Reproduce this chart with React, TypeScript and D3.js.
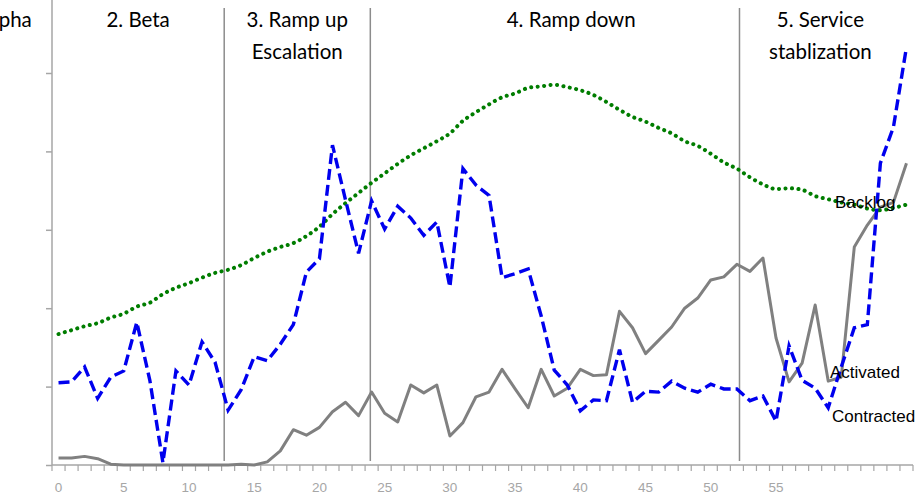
import * as d3 from "d3";
import React, { useRef, useEffect } from "react";

// day index of each point on the category axis
const days = d3.range(66);

const contracted = [105, 106, 125, 85, 112, 120, 182, 108, 3, 120, 102, 157, 131, 70, 96, 138, 133, 154, 179, 246,
  263, 408, 338, 270, 337, 301, 330, 315, 293, 310, 227, 378, 357, 344, 239, 244, 250, 190, 121, 102,
  69, 83, 82, 147, 80, 94, 93, 107, 98, 93, 103, 97, 97, 82, 88, 56, 152, 108, 98, 73,
  125, 175, 179, 385, 431, 533];

const activated = [9, 9, 11, 8, 1, 0, 0, 0, 0, 0, 0, 0, 0, 0, 1, 0, 4, 18, 45, 38,
  48, 68, 80, 63, 93, 66, 55, 102, 92, 102, 37, 54, 87, 93, 122, 97, 73, 122, 88, 98,
  122, 114, 115, 196, 175, 142, 159, 176, 200, 213, 236, 240, 256, 247, 264, 162, 106, 130, 204, 107,
  112, 278, 306, 329, 335, 385];

const backlog = [167, 172, 177, 181, 188, 193, 202, 207, 218, 226, 232, 239, 245, 249, 255, 264, 272, 278, 283, 292,
  304, 320, 334, 347, 360, 372, 384, 395, 404, 413, 423, 439, 450, 460, 469, 474, 481, 483, 485, 482,
  478, 472, 463, 453, 444, 438, 430, 423, 413, 407, 397, 386, 378, 367, 358, 352, 353, 351, 343, 339,
  335, 332, 327, 325, 328, 332];

const phaseNames = [["1. Alpha"], ["2. Beta"], ["3. Ramp up", "Escalation"], ["4. Ramp down"], ["5. Service", "stablization"]];
const phaseLabelAt = [-2.05, 6.1, 18.3, 39.3, 58.4];
const phaseBreaks = [12.7, 23.9, 52.2];
const yTicks = [0, 100, 200, 300, 400, 500];
const xTickLabels = [0, 5, 10, 15, 20, 25, 30, 35, 40, 45, 50, 55];

const seriesLabels = [
  { name: "Backlog", x: 835, y: 208 },
  { name: "Activated", x: 830, y: 378 },
  { name: "Contracted", x: 832, y: 422 },
];

export default function App() {
  const svgRef = useRef(null);
  const w = 918;
  const h = 496;

  useEffect(() => {
    const svg = d3.select(svgRef.current);
    svg.selectAll("*").remove();

    const x = d3.scaleLinear().domain([-0.5, 65.5]).range([52, 913]);
    const y = d3.scaleLinear().domain([0, 600]).range([465, -5.4]);

    // phase dividers
    svg.selectAll("line.phase")
      .data(phaseBreaks)
      .enter()
      .append("line")
      .attr("class", "phase")
      .attr("x1", d => x(d)).attr("x2", d => x(d))
      .attr("y1", 8).attr("y2", 461)
      .attr("stroke", "#8c8c8c")
      .attr("stroke-width", 1.5);

    // y axis (ticks only, no labels)
    const yAxis = svg.append("g").attr("transform", "translate(52,0)")
      .call(d3.axisLeft(y).tickValues(yTicks).tickSize(6).tickFormat(() => ""));
    yAxis.select(".domain").attr("d", `M0,${y(0)}V0`);
    yAxis.selectAll("path,line").attr("stroke", "#a6a6a6").attr("stroke-width", 1.5);

    // x axis: tick marks between categories, label every 5 days
    const xAxis = svg.append("g").attr("transform", `translate(0,${y(0)})`);
    xAxis.append("line")
      .attr("x1", x(-0.5)).attr("x2", x(65.5))
      .attr("stroke", "#a6a6a6").attr("stroke-width", 1.5);
    xAxis.selectAll("line.tick")
      .data(d3.range(67))
      .enter()
      .append("line")
      .attr("class", "tick")
      .attr("x1", d => x(d - 0.5)).attr("x2", d => x(d - 0.5))
      .attr("y1", 0).attr("y2", 6)
      .attr("stroke", "#a6a6a6").attr("stroke-width", 1.2);
    xAxis.selectAll("text")
      .data(xTickLabels)
      .enter()
      .append("text")
      .attr("x", d => x(d))
      .attr("y", 27)
      .attr("text-anchor", "middle")
      .attr("fill", "#a6a6a6")
      .style("font-family", "'Liberation Sans', Arial, sans-serif")
      .style("font-size", "13.5px")
      .text(d => d);

    const line = d3.line<number>().x((d, i) => x(days[i])).y(d => y(d));

    svg.append("path").datum(activated)
      .attr("d", line)
      .attr("fill", "none")
      .attr("stroke", "#808080")
      .attr("stroke-width", 3)
      .attr("stroke-linejoin", "round");

    svg.append("path").datum(backlog)
      .attr("d", line.curve(d3.curveMonotoneX))
      .attr("fill", "none")
      .attr("stroke", "#007d00")
      .attr("stroke-width", 4)
      .attr("stroke-linecap", "round")
      .attr("stroke-dasharray", "0.1,6.4");

    svg.append("path").datum(contracted)
      .attr("d", line.curve(d3.curveLinear))
      .attr("fill", "none")
      .attr("stroke", "#0000ee")
      .attr("stroke-width", 3.4)
      .attr("stroke-dasharray", "11,5");

    // phase names
    const ph = svg.selectAll("text.phase")
      .data(phaseNames)
      .enter()
      .append("text")
      .attr("class", "phase")
      .attr("text-anchor", (d, i) => (i === 0 ? "end" : "middle"))
      .attr("fill", "#000")
      .style("font-family", "Lato, 'Open Sans', sans-serif")
      .style("font-size", "20.5px");
    ph.each(function (d, i) {
      const t = d3.select(this);
      const xi = x(phaseLabelAt[i]);
      d.forEach((s, k) => {
        t.append("tspan").attr("x", xi).attr("y", 27 + k * 32).text(s);
      });
    });

    // series names
    svg.selectAll("text.series")
      .data(seriesLabels)
      .enter()
      .append("text")
      .attr("class", "series")
      .attr("x", d => d.x)
      .attr("y", d => d.y)
      .attr("fill", "#000")
      .style("font-family", "'Liberation Sans', Arial, sans-serif")
      .style("font-size", "17px")
      .text(d => d.name);
  });

  return (
    <svg
      ref={svgRef}
      width={w}
      height={h}
      viewBox={`0 0 ${w} ${h}`}
      style={{ position: "absolute", left: 0, top: 0, background: "#fff" }}
    />
  );
}
